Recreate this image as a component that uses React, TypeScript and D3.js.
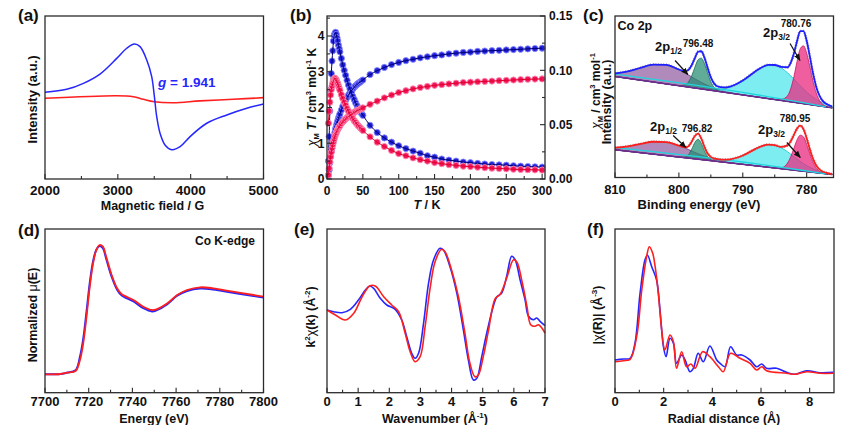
import React from 'react';
import * as d3 from 'd3';

const FONT = '"Liberation Sans", Arial, Helvetica, sans-serif';
const INK = '#2b2b2b';
const BLUE = '#2626ff';
const RED = '#ff1f1f';

// (a) EPR
const eprBlueField = [2000, 2298, 2527, 2755, 2985, 3122, 3227, 3305, 3397, 3465, 3502, 3534, 3580, 3648, 3740, 3855, 3992, 4221, 4496, 4771, 5000];
const eprBlue = [53.2, 55.0, 58.7, 64.4, 74.0, 80.2, 82.8, 81.2, 73.0, 62.8, 50.5, 38.2, 28.0, 20.9, 18.0, 19.8, 26.0, 34.2, 39.3, 43.4, 46.0];
const eprRedField = [2000, 2985, 3213, 3350, 3502, 3762, 4129, 4587, 5000];
const eprRed = [49.5, 51.1, 50.5, 48.9, 47.4, 46.8, 47.9, 48.9, 49.9];
const eprTicks = [2000, 3000, 4000, 5000];
const eprMinor = [2500, 3500, 4500];

// (b) magnetic susceptibility
const magT = [2, 3, 4, 5, 6, 7, 8, 9, 10, 11, 12, 13, 14, 15, 16, 17, 18,
  20, 22, 24, 26, 28, 30, 32, 34, 36, 38, 40, 42, 44, 46, 48, 50,
  60, 70, 80, 90, 100, 110, 120, 130, 140, 150, 160, 170, 180, 190, 200, 210, 220, 230, 240, 250, 260, 270, 280, 290, 300];
const blueChiT = [0.10, 0.25, 0.45, 0.62, 0.78, 0.90, 1.00, 1.10, 1.20, 1.30, 1.40, 1.48, 1.56, 1.63, 1.70, 1.76, 1.82,
  1.93, 2.03, 2.12, 2.20, 2.28, 2.35, 2.41, 2.47, 2.52, 2.57, 2.61, 2.65, 2.68, 2.71, 2.74, 2.77,
  2.92, 3.03, 3.12, 3.20, 3.26, 3.31, 3.35, 3.39, 3.42, 3.45, 3.47, 3.50, 3.52, 3.54, 3.55, 3.57, 3.58, 3.59, 3.60, 3.61, 3.62, 3.63, 3.64, 3.65, 3.66];
const blueChi = [0.0165, 0.039, 0.0625, 0.082, 0.097, 0.1086, 0.118, 0.127, 0.132, 0.134, 0.135, 0.133, 0.130, 0.127, 0.123, 0.120, 0.117,
  0.111, 0.105, 0.100, 0.0954, 0.0908, 0.0865, 0.0829, 0.0793, 0.076, 0.073, 0.070, 0.0674, 0.0651, 0.0628, 0.0605, 0.0586,
  0.0494, 0.0428, 0.0378, 0.0339, 0.0306, 0.028, 0.0257, 0.0237, 0.0214, 0.0201, 0.0184, 0.0174, 0.0165, 0.0156, 0.015, 0.0143, 0.0138, 0.0133, 0.013, 0.0127, 0.0122, 0.0118, 0.0115, 0.0112, 0.011];
const redChiT = [0.11, 0.30, 0.48, 0.62, 0.75, 0.86, 0.96, 1.04, 1.12, 1.19, 1.25, 1.30, 1.35, 1.39, 1.43, 1.46, 1.49,
  1.55, 1.60, 1.64, 1.68, 1.72, 1.75, 1.78, 1.81, 1.84, 1.86, 1.89, 1.91, 1.93, 1.95, 1.97, 1.99,
  2.09, 2.18, 2.27, 2.35, 2.42, 2.47, 2.52, 2.56, 2.59, 2.62, 2.64, 2.66, 2.68, 2.70, 2.71, 2.72, 2.73, 2.74, 2.75, 2.76, 2.77, 2.78, 2.79, 2.795, 2.80];
const redChi = [0.0513, 0.0625, 0.0707, 0.0773, 0.0823, 0.0855, 0.0882, 0.0905, 0.0921, 0.0928, 0.0921, 0.0908, 0.0892, 0.0875, 0.0855, 0.0836, 0.0816,
  0.0776, 0.074, 0.0707, 0.0678, 0.0648, 0.0622, 0.0599, 0.0576, 0.0556, 0.0536, 0.052, 0.0503, 0.0487, 0.0474, 0.046, 0.0447,
  0.0388, 0.0339, 0.0299, 0.0263, 0.0234, 0.0214, 0.0194, 0.0178, 0.0165, 0.0151, 0.0141, 0.0132, 0.0125, 0.0118, 0.0114, 0.0109, 0.0104, 0.01, 0.0097, 0.0094, 0.009, 0.0088, 0.0086, 0.0084, 0.0082];
const magTTicks = [0, 50, 100, 150, 200, 250, 300];
const magTMinor = [25, 75, 125, 175, 225, 275];
const chiTTicks = [0, 1, 2, 3, 4];
const chiTMinor = [0.5, 1.5, 2.5, 3.5, 4.5];
const chiTicks = [0, 0.05, 0.1, 0.15];
const chiMinor = [0.025, 0.075, 0.125];

// (c) XPS Co 2p, fitted components (height above background)
const xpsE = [810, 808, 806, 804, 802, 800, 799, 798.5, 798, 797.5, 797, 796.5, 796, 795.5, 795, 794.5, 794, 793, 792, 790,
  788, 787, 786, 785, 784, 783, 782.5, 782, 781.5, 781, 780.5, 780, 779.5, 779, 778.5, 778, 777.5, 777, 776];
const topBgEnds = [101, 69.7];
const botBgEnds = [27.7, 3.0];
const bgE = [810, 776];
const shirleyE = [810, 790, 781, 777];
const topShirley = [103.3, 85.1, 75.3, 70.6];
const botShirley = [29.9, 15.5, 7.5, 3.7];
const topSat1 = [3.0, 6.9, 12.4, 17.4, 19, 16.1, 13.5, 12.1, 10.7, 9.2, 7.9, 6.6, 5.5, 4.5, 3.6, 2.8, 2.2, 1.3, 0.7, 0.2,
  0, 0, 0, 0, 0, 0, 0, 0, 0, 0, 0, 0, 0, 0, 0, 0, 0, 0, 0];
const topP12 = [0, 0, 0, 0, 0, 0.1, 1.7, 5.1, 11.6, 20.7, 28.6, 30.8, 25.9, 16.9, 8.6, 3.4, 1.1, 0.1, 0, 0,
  0, 0, 0, 0, 0, 0, 0, 0, 0, 0, 0, 0, 0, 0, 0, 0, 0, 0, 0];
const topSat2 = [0, 0, 0, 0, 0, 0, 0, 0, 0, 0, 0.2, 0.3, 0.4, 0.6, 0.8, 1.2, 1.7, 3.3, 5.8, 14.2,
  25.5, 30.4, 33.7, 34.5, 32.6, 28.6, 26.0, 23.2, 20.3, 17.5, 14.7, 12.1, 9.8, 7.8, 6.1, 4.7, 3.5, 2.6, 1.3];
const topP32 = [0, 0, 0, 0, 0, 0, 0, 0, 0, 0, 0, 0, 0, 0, 0, 0, 0, 0, 0, 0,
  0, 0, 0, 0, 1, 5.5, 13, 25.5, 41.5, 54.5, 57.8, 51.2, 38.1, 23.8, 12.5, 5.6, 2.1, 0.7, 0];
const botSat1 = [2.1, 4.9, 8.8, 12.4, 13.5, 11.4, 9.6, 8.6, 7.6, 6.5, 5.6, 4.7, 3.9, 3.2, 2.6, 2.0, 1.6, 0.9, 0.5, 0.1,
  0, 0, 0, 0, 0, 0, 0, 0, 0, 0, 0, 0, 0, 0, 0, 0, 0, 0, 0];
const botP12 = [0, 0, 0, 0, 0, 0, 0.9, 3.4, 9.2, 16.4, 20, 16.4, 9.2, 3.4, 0.9, 0.2, 0, 0, 0, 0,
  0, 0, 0, 0, 0, 0, 0, 0, 0, 0, 0, 0, 0, 0, 0, 0, 0, 0, 0];
const botSat2 = [0, 0, 0, 0, 0, 0, 0, 0, 0, 0, 0, 0.1, 0.1, 0.2, 0.3, 0.5, 0.8, 1.6, 3.1, 8.7,
  16.9, 20.4, 22.6, 22.8, 21, 17.7, 15.6, 13.5, 11.4, 9.5, 7.7, 6, 4.6, 3.5, 2.6, 1.9, 1.4, 1, 0.4];
const botP32 = [0, 0, 0, 0, 0, 0, 0, 0, 0, 0, 0, 0, 0, 0, 0, 0, 0, 0, 0, 0,
  0, 0, 0, 0, 0.8, 6.3, 12.9, 21.8, 30.7, 35.7, 34.4, 27.4, 18.1, 9.9, 4.5, 1.7, 0.5, 0.1, 0];
const xpsTicks = [810, 800, 790, 780];
const xpsMinor = [805, 795, 785];

// (d) Co K-edge XANES
const xanesE = [7700, 7707, 7710, 7714, 7716, 7717.5, 7719, 7720.5, 7722, 7723.5, 7725, 7726.5, 7728, 7730.5, 7733, 7735, 7740.5, 7745, 7749, 7751, 7756, 7760.5, 7765, 7771, 7777, 7786, 7795.5, 7800];
const xanesRed = [18.4, 18.7, 20, 21.7, 32.7, 49.4, 76, 106, 129.4, 142.7, 147.7, 146, 136, 117.7, 104.4, 98.7, 92.7, 86, 82.7, 83.4, 89.4, 97.7, 102.7, 105.4, 104.4, 101, 97.7, 96];
const xanesBlue = [18.4, 18.7, 20, 22.5, 36, 54, 81, 110, 131.5, 143, 146.7, 144.5, 134, 116, 103, 97.5, 91.3, 84.5, 81.3, 82.3, 88.6, 97, 101.7, 104.2, 103.3, 100, 96.7, 95.2];
const xanesTicks = [7700, 7720, 7740, 7760, 7780, 7800];
const xanesMinor = [7710, 7730, 7750, 7770, 7790];

// (e) k-space EXAFS
const blueK = [0, 0.21, 0.48, 0.75, 1.01, 1.23, 1.37, 1.5, 1.71, 1.92, 2.19, 2.4, 2.56, 2.72, 2.83, 2.94, 3.1, 3.26, 3.42, 3.63, 3.74, 3.95, 4.17, 4.38, 4.54, 4.7, 4.81, 4.97, 5.13, 5.34, 5.45, 5.61, 5.77, 5.93, 6.04, 6.2, 6.36, 6.47, 6.63, 6.73, 6.84, 7];
const blueChiK = [82.7, 81, 80, 83.4, 92.7, 102.7, 106.7, 104.4, 94.4, 87.7, 83.4, 72.7, 56, 39.4, 34.4, 39.4, 69.4, 109.4, 132.7, 144.4, 142.7, 126, 99.4, 62.7, 32.7, 12.7, 14.4, 36.4, 59.7, 86.4, 95.7, 99.7, 116.4, 136.4, 133, 113, 93, 76.4, 73, 74.7, 71.4, 67];
const redK = [0, 0.27, 0.59, 0.86, 1.12, 1.37, 1.55, 1.82, 2.08, 2.3, 2.51, 2.67, 2.83, 2.99, 3.15, 3.31, 3.47, 3.68, 3.79, 4.0, 4.22, 4.43, 4.59, 4.75, 4.86, 5.02, 5.18, 5.4, 5.56, 5.77, 5.99, 6.1, 6.26, 6.42, 6.54, 6.68, 6.79, 6.9, 7];
const redChiK = [82.7, 77.7, 72.7, 79.4, 95.4, 106.7, 106.7, 96, 87.7, 81, 59.4, 41, 31, 36, 66, 104.4, 131, 143.4, 141, 122.7, 96, 59.4, 29.4, 16, 17.7, 36.4, 61.4, 94, 98.4, 114.7, 133, 130.4, 111.4, 86.4, 68, 66.4, 68, 64.7, 59.7];
const kTicks = [0, 1, 2, 3, 4, 5, 6, 7];
const kMinor = [0.5, 1.5, 2.5, 3.5, 4.5, 5.5, 6.5];

// (f) R-space EXAFS
const blueR = [0, 0.34, 0.62, 0.82, 1.03, 1.23, 1.33, 1.51, 1.71, 1.85, 1.99, 2.1, 2.26, 2.4, 2.53, 2.74, 2.88, 3.08, 3.22, 3.42, 3.63, 3.9, 4.18, 4.32, 4.52, 4.75, 5.0, 5.21, 5.55, 5.82, 6.03, 6.23, 6.64, 7.05, 7.4, 7.88, 8.43, 8.97];
const blueFt = [32.7, 33.7, 34.4, 49.4, 99.4, 132.7, 137.7, 126, 112.7, 82.7, 46, 36, 54.4, 49.4, 29.4, 37.7, 32.7, 21, 24.4, 39.4, 31, 46.7, 32.7, 29.4, 26, 46, 37.7, 37.7, 32.7, 26, 28.7, 24.4, 24.4, 20.4, 18.4, 22, 20, 20.4];
const redR = [0, 0.34, 0.62, 0.89, 1.1, 1.3, 1.41, 1.55, 1.65, 1.78, 1.92, 2.05, 2.26, 2.4, 2.53, 2.74, 2.94, 3.12, 3.29, 3.6, 3.9, 4.25, 4.45, 4.75, 5.14, 5.55, 5.82, 6.03, 6.23, 7.05, 7.4, 7.88, 8.43, 8.97];
const redFt = [31, 32, 33.4, 56, 102.7, 136, 146, 139.4, 126, 99.4, 62.7, 42.7, 57.7, 51, 24.4, 41, 26, 28.7, 24.4, 41, 36, 26, 21, 39.4, 34.4, 29.4, 22.7, 26, 22, 19.4, 18.4, 21, 19.4, 19.4];
const rTicks = [0, 2, 4, 6, 8];
const rMinor = [1, 3, 5, 7];

type Frame = { x0: number; x1: number; y0: number; y1: number };
type Scale = (v: number) => number;

const pairs = (xs: number[], ys: number[]) => xs.map((v, i) => [v, ys[i]] as [number, number]);

function mkLine(x: Scale, y: Scale, curve: d3.CurveFactory = d3.curveMonotoneX) {
  return (xs: number[], ys: number[]) =>
    d3.line<[number, number]>().x(d => x(d[0])).y(d => y(d[1])).curve(curve)(pairs(xs, ys)) || '';
}

function Box({ f }: { f: Frame }) {
  return <rect x={f.x0} y={f.y0} width={f.x1 - f.x0} height={f.y1 - f.y0} fill="none" stroke={INK} strokeWidth={1.3} />;
}

function XTicks({ f, x, major, minor, size, dy, fmt = (v: number) => String(v) }:
  { f: Frame; x: Scale; major: number[]; minor: number[]; size: number; dy: number; fmt?: (v: number) => string }) {
  return (
    <g>
      {minor.map(v => <line key={'m' + v} x1={x(v)} x2={x(v)} y1={f.y1} y2={f.y1 - 3} stroke={INK} strokeWidth={1.1} />)}
      {major.map(v => (
        <g key={v}>
          <line x1={x(v)} x2={x(v)} y1={f.y1} y2={f.y1 - 5} stroke={INK} strokeWidth={1.1} />
          <text x={x(v)} y={f.y1 + dy} fontSize={size} textAnchor="middle">{fmt(v)}</text>
        </g>
      ))}
    </g>
  );
}

function YTicks({ f, y, major, minor, size, side, gap, fmt = (v: number) => String(v) }:
  { f: Frame; y: Scale; major: number[]; minor: number[]; size: number; side: 'left' | 'right'; gap: number; fmt?: (v: number) => string }) {
  const x0 = side === 'left' ? f.x0 : f.x1;
  const s = side === 'left' ? 1 : -1;
  return (
    <g>
      {minor.map(v => <line key={'m' + v} x1={x0} x2={x0 + 3 * s} y1={y(v)} y2={y(v)} stroke={INK} strokeWidth={1.1} />)}
      {major.map(v => (
        <g key={v}>
          <line x1={x0} x2={x0 + 5 * s} y1={y(v)} y2={y(v)} stroke={INK} strokeWidth={1.1} />
          <text x={x0 - gap * s} y={y(v) + size * 0.36} fontSize={size} textAnchor={side === 'left' ? 'end' : 'start'}>{fmt(v)}</text>
        </g>
      ))}
    </g>
  );
}

function VText({ x, y, size, children }: { x: number; y: number; size: number; children: React.ReactNode }) {
  return <text transform={`translate(${x},${y}) rotate(-90)`} fontSize={size} textAnchor="middle">{children}</text>;
}

export default function App() {
  // frames
  const fa: Frame = { x0: 45, x1: 263.5, y0: 16, y1: 179 };
  const fb: Frame = { x0: 327, x1: 545, y0: 16, y1: 179 };
  const fc: Frame = { x0: 615, x1: 833.5, y0: 16, y1: 177.5 };
  const fd: Frame = { x0: 45, x1: 263.5, y0: 229, y1: 392.7 };
  const fe: Frame = { x0: 327, x1: 545, y0: 229, y1: 392.7 };
  const ff: Frame = { x0: 615, x1: 834, y0: 229, y1: 392.7 };

  // (a)
  const xa = d3.scaleLinear().domain([2000, 5000]).range([fa.x0, fa.x1]);
  const ya = d3.scaleLinear().domain([0, 100]).range([fa.y1, fa.y0]);
  const la = mkLine(xa, ya, d3.curveCatmullRom.alpha(0.5));

  // (b)
  const xb = d3.scaleLinear().domain([0, 304]).range([fb.x0, fb.x1]);
  const ybL = d3.scaleLinear().domain([0, 4.56]).range([fb.y1, fb.y0]);
  const ybR = d3.scaleLinear().domain([0, 0.15]).range([fb.y1, fb.y0]);
  const lbL = mkLine(xb, ybL);
  const lbR = mkLine(xb, ybR);

  // (c)
  const xc = d3.scaleLinear().domain([810, 775.8]).range([fc.x0, fc.x1]);
  const yc = d3.scaleLinear().domain([0, 161.5]).range([fc.y1, fc.y0]);
  const lc = mkLine(xc, yc);
  const topBg = d3.scaleLinear().domain(bgE).range(topBgEnds);
  const botBg = d3.scaleLinear().domain(bgE).range(botBgEnds);

  // (d)(e)(f)
  const yBottom = d3.scaleLinear().domain([0, 163.7]).range([fd.y1, fd.y0]);
  const xd = d3.scaleLinear().domain([7700, 7800]).range([fd.x0, fd.x1]);
  const xe = d3.scaleLinear().domain([0, 7]).range([fe.x0, fe.x1]);
  const xf = d3.scaleLinear().domain([0, 9]).range([ff.x0, ff.x1]);
  const cr = d3.curveCatmullRom.alpha(0.5);
  const ld = mkLine(xd, yBottom, cr);
  const le = mkLine(xe, yBottom, cr);
  const lf = mkLine(xf, yBottom, cr);

  const comp = (bg: (e: number) => number, h: number[]) =>
    d3.area<number>()
      .x(i => xc(xpsE[i]))
      .y0(i => yc(bg(xpsE[i])))
      .y1(i => yc(bg(xpsE[i]) + h[i]))
      .curve(d3.curveMonotoneX)(xpsE.map((_, i) => i)) || '';
  const envelope = (bg: (e: number) => number, parts: number[][]) =>
    lc(xpsE, xpsE.map((e, i) => bg(e) + d3.sum(parts, p => p[i])));

  const spectrum = (bg: (e: number) => number, shirley: number[], parts: number[][], env: string, key: string) => {
    const [s1, p12, s2, p32] = parts;
    return (
      <g key={key}>
        <path d={comp(bg, s1)} fill="#7e4290" fillOpacity={0.62} stroke="#6b2c80" strokeWidth={0.8} />
        <path d={comp(bg, s2)} fill="#2fe2e8" fillOpacity={0.62} stroke="#14c4cc" strokeWidth={0.8} />
        <path d={comp(bg, p12)} fill="#238c72" fillOpacity={0.72} stroke="#146e58" strokeWidth={0.8} />
        <path d={comp(bg, p32)} fill="#ea2a80" fillOpacity={0.75} stroke="#c8165f" strokeWidth={0.8} />
        <path d={lc(bgE, bgE.map(bg))} fill="none" stroke="#6b2c91" strokeWidth={1.4} />
        <path d={lc(shirleyE, shirley)} fill="none" stroke="#1fd6e0" strokeWidth={1.3} />
        <path d={envelope(bg, parts)} fill="none" stroke="#9a9a9a" strokeWidth={3} strokeDasharray="0.8 1.8" />
        <path d={envelope(bg, parts)} fill="none" stroke={env} strokeWidth={1.8} />
      </g>
    );
  };

  const markers = (xs: number[], ys: number[], y: Scale, fill: string, ring: string) =>
    xs.map((t, i) => <circle key={t} cx={xb(t)} cy={y(ys[i])} r={3.1} fill={fill} stroke={ring} strokeWidth={0.9} />);

  const arrow = (e0: number, v0: number, e1: number, v1: number) => (
    <line x1={xc(e0)} y1={yc(v0)} x2={xc(e1)} y2={yc(v1)} stroke="#111" strokeWidth={1.2} markerEnd="url(#ah)" />
  );

  return (
    <svg width={847} height={425} style={{ position: 'absolute', left: 0, top: 0, background: '#fff' }}
      fontFamily={FONT} fontWeight="bold" fill="#111">
      <defs>
        <marker id="ah" viewBox="0 0 10 10" refX="9" refY="5" markerWidth="6" markerHeight="6" orient="auto">
          <path d="M0,1 L10,5 L0,9 z" fill="#111" />
        </marker>
      </defs>

      {/* (a) */}
      <text x={18} y={21} fontSize={17}>(a)</text>
      <path d={la(eprRedField, eprRed)} fill="none" stroke={RED} strokeWidth={1.6} />
      <path d={la(eprBlueField, eprBlue)} fill="none" stroke={BLUE} strokeWidth={1.5} />
      <text x={158} y={87} fontSize={13.5} fill={BLUE}><tspan fontStyle="italic">g</tspan> = 1.941</text>
      <Box f={fa} />
      <XTicks f={fa} x={xa} major={eprTicks} minor={eprMinor} size={13.5} dy={15.5} />
      <text x={152.5} y={209.5} fontSize={12.5} textAnchor="middle">Magnetic  field / G</text>
      <VText x={37} y={99.5} size={13}>Intensity (a.u.)</VText>

      {/* (b) */}
      <text x={290} y={21} fontSize={17}>(b)</text>
      {markers(magT, blueChiT, ybL, '#1f1fd8', '#8a8aff')}
      {markers(magT, blueChi, ybR, '#1f1fd8', '#8a8aff')}
      <path d={lbL(magT, blueChiT)} fill="none" stroke="#00006e" strokeWidth={1} />
      <path d={lbR(magT, blueChi)} fill="none" stroke="#00006e" strokeWidth={1} />
      {markers(magT, redChiT, ybL, '#f2155c', '#ff90b2')}
      {markers(magT, redChi, ybR, '#f2155c', '#ff90b2')}
      <path d={lbL(magT, redChiT)} fill="none" stroke="#e0002a" strokeWidth={1} />
      <path d={lbR(magT, redChi)} fill="none" stroke="#e0002a" strokeWidth={1} />
      <Box f={fb} />
      <XTicks f={fb} x={xb} major={magTTicks} minor={magTMinor} size={12} dy={16} />
      <YTicks f={fb} y={ybL} major={chiTTicks} minor={chiTMinor} size={12} side="left" gap={2.5} />
      <YTicks f={fb} y={ybR} major={chiTicks} minor={chiMinor} size={12} side="right" gap={4} fmt={d3.format('.2f')} />
      <text x={427} y={208.5} fontSize={12.5} textAnchor="middle"><tspan fontStyle="italic">T</tspan> / K</text>
      <VText x={316} y={97} size={12}>
        <tspan fontStyle="italic" fontWeight="normal">χ</tspan><tspan fontSize={7.5} dy={3}>M</tspan>
        <tspan dy={-3} fontStyle="italic"> T</tspan> / cm<tspan fontSize={7.5} dy={-5}>3</tspan>
        <tspan dy={5}> mol</tspan><tspan fontSize={7.5} dy={-5}>-1</tspan><tspan dy={5}> K</tspan>
      </VText>
      <VText x={600} y={91} size={12}>
        <tspan fontStyle="italic" fontWeight="normal">χ</tspan><tspan fontSize={7.5} dy={3}>M</tspan>
        <tspan dy={-3}> / cm</tspan><tspan fontSize={7.5} dy={-5}>3</tspan>
        <tspan dy={5}> mol</tspan><tspan fontSize={7.5} dy={-5}>-1</tspan>
      </VText>

      {/* (c) */}
      <text x={583} y={21} fontSize={17}>(c)</text>
      <clipPath id="clipc"><rect x={fc.x0} y={fc.y0} width={fc.x1 - fc.x0} height={fc.y1 - fc.y0} /></clipPath>
      <g clipPath="url(#clipc)">
        {spectrum(topBg, topShirley, [topSat1, topP12, topSat2, topP32], '#1f1fff', 'top')}
        {spectrum(botBg, botShirley, [botSat1, botP12, botSat2, botP32], '#ff1f1f', 'bot')}
      </g>
      <text x={617.5} y={29.5} fontSize={12.5}>Co 2p</text>
      <text x={655} y={51} fontSize={13}>2p<tspan fontSize={8.5} dy={3}>1/2</tspan></text>
      <text x={698} y={47} fontSize={10} textAnchor="middle">796.48</text>
      {arrow(800.6, 117, 798.6, 103)}
      <text x={796} y={27} fontSize={10} textAnchor="middle">780.76</text>
      <text x={763} y={37} fontSize={13}>2p<tspan fontSize={8.5} dy={3}>3/2</tspan></text>
      {arrow(782.6, 134, 781.05, 117)}
      <text x={650} y={131} fontSize={13}>2p<tspan fontSize={8.5} dy={3}>1/2</tspan></text>
      <text x={697} y={132} fontSize={10} textAnchor="middle">796.82</text>
      {arrow(800.9, 42, 798.9, 30)}
      <text x={795} y={122} fontSize={10} textAnchor="middle">780.95</text>
      <text x={758} y={134} fontSize={13}>2p<tspan fontSize={8.5} dy={3}>3/2</tspan></text>
      {arrow(783.1, 35, 781.0, 20)}
      <Box f={fc} />
      <XTicks f={fc} x={xc} major={xpsTicks} minor={xpsMinor} size={13} dy={16.5} />
      <text x={699} y={208.5} fontSize={13} textAnchor="middle">Binding energy (eV)</text>
      <VText x={611} y={102} size={12.5}>Intensity (a.u.)</VText>

      {/* (d) */}
      <text x={18} y={236} fontSize={17}>(d)</text>
      <path d={ld(xanesE, xanesBlue)} fill="none" stroke={BLUE} strokeWidth={2} />
      <path d={ld(xanesE, xanesRed)} fill="none" stroke={RED} strokeWidth={1.8} />
      <text x={225} y={245} fontSize={12} textAnchor="middle">Co K-edge</text>
      <Box f={fd} />
      <XTicks f={fd} x={xd} major={xanesTicks} minor={xanesMinor} size={13} dy={13.7} />
      <text x={154} y={422.7} fontSize={12.5} textAnchor="middle">Energy (eV)</text>
      <VText x={37} y={315} size={12.5}>Normalized <tspan fontWeight="normal">μ</tspan>(E)</VText>

      {/* (e) */}
      <text x={294} y={235} fontSize={17}>(e)</text>
      <path d={le(blueK, blueChiK)} fill="none" stroke={BLUE} strokeWidth={1.6} />
      <path d={le(redK, redChiK)} fill="none" stroke={RED} strokeWidth={1.6} />
      <Box f={fe} />
      <XTicks f={fe} x={xe} major={kTicks} minor={kMinor} size={13} dy={13.7} />
      <text x={435} y={422.7} fontSize={12.5} textAnchor="middle">Wavenumber (Å<tspan fontSize={8} dy={-5}>-1</tspan><tspan dy={5}>)</tspan></text>
      <VText x={315} y={317} size={12.5}>
        k<tspan fontSize={8} dy={-5}>2</tspan><tspan dy={5} fontWeight="normal">χ</tspan>(k) (Å<tspan fontSize={8} dy={-5}>-2</tspan><tspan dy={5}>)</tspan>
      </VText>

      {/* (f) */}
      <text x={587} y={235} fontSize={17}>(f)</text>
      <path d={lf(blueR, blueFt)} fill="none" stroke={BLUE} strokeWidth={1.6} />
      <path d={lf(redR, redFt)} fill="none" stroke={RED} strokeWidth={1.6} />
      <Box f={ff} />
      <XTicks f={ff} x={xf} major={rTicks} minor={rMinor} size={13} dy={13.7} />
      <text x={724} y={422.7} fontSize={12.5} textAnchor="middle">Radial distance (Å)</text>
      <VText x={602} y={315} size={12.5}>
        |<tspan fontWeight="normal">χ</tspan>(R)| (Å<tspan fontSize={8} dy={-5}>-3</tspan><tspan dy={5}>)</tspan>
      </VText>
    </svg>
  );
}
